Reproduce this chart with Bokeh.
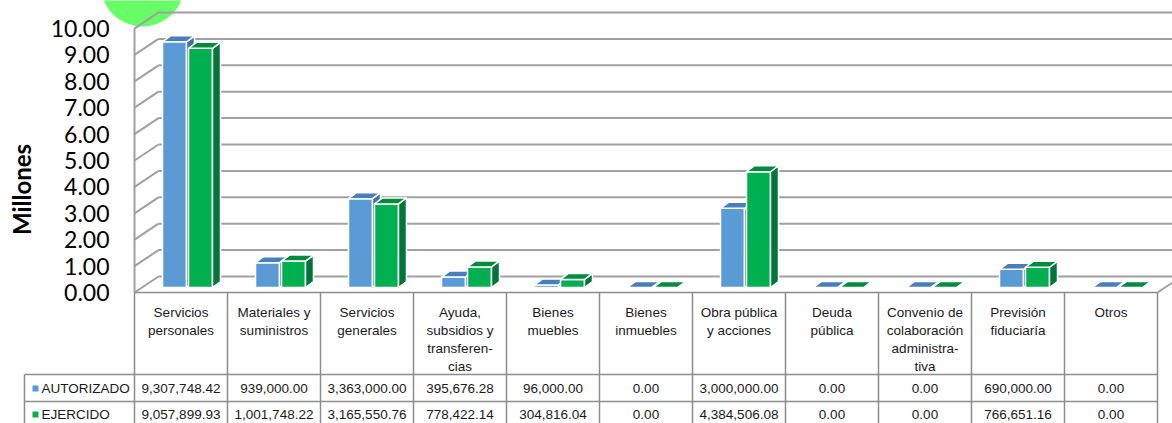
import math
from bokeh.plotting import figure
from bokeh.models import Range1d
from bokeh.core.properties import value
from bokeh.embed import file_html
from bokeh.resources import INLINE

# ---------------- data ----------------
categories = ["Servicios\npersonales", "Materiales y\nsuministros", "Servicios\ngenerales",
              "Ayuda,\nsubsidios y\ntransferen-\ncias", "Bienes\nmuebles", "Bienes\ninmuebles",
              "Obra pública\ny acciones", "Deuda\npública",
              "Convenio de\ncolaboración\nadministra-\ntiva", "Previsión\nfiduciaría", "Otros"]
autorizado = [9307748.42, 939000.00, 3363000.00, 395676.28, 96000.00, 0.00,
              3000000.00, 0.00, 0.00, 690000.00, 0.00]
ejercido = [9057899.93, 1001748.22, 3165550.76, 778422.14, 304816.04, 0.00,
            4384506.08, 0.00, 0.00, 766651.16, 0.00]
series_names = ["AUTORIZADO", "EJERCIDO"]
y_ticks = [0, 1, 2, 3, 4, 5, 6, 7, 8, 9, 10]
y_tick_labels = ["0.00", "1.00", "2.00", "3.00", "4.00", "5.00", "6.00", "7.00", "8.00", "9.00", "10.00"]
y_title = "Millones"

# ---------------- layout (pixel geometry) ----------------
W, H = 1172, 423
X0, Y0 = 134.0, 292.0      # front-left bottom corner of the plot box
CW = 93.0                  # category width (px)
U = 26.4                   # px per million
WDX, WDY = 24.0, 16.0      # depth of walls
BDX, BDY = 8.0, 6.0        # depth of bars


def X(px):
    return (px - X0) / CW


def Y(py):
    return (Y0 - py) / U


BLUE = ("#5B9BD5", "#41719C", "#4A7EBB")     # front, side, top
GREEN = ("#00B050", "#00753A", "#008A3E")
GRID = "#A0A0A0"
TBL = "#8C8C8C"
TXT = "#1A1A1A"
TFONT = value("Liberation Sans")

p = figure(width=W, height=H, x_range=Range1d(X(0), X(W)), y_range=Range1d(Y(H), Y(0)),
           x_axis_type=None, y_axis_type=None, toolbar_location=None, output_backend="svg",
           min_border=0, outline_line_color=None, background_fill_color="white")

# decoration circle (top left)
p.ellipse(x=[X(142)], y=[Y(-16)], width=[84 / CW], height=[84 / U],
          fill_color="#66FF66", line_color=None)

# back wall gridlines and left wall diagonals
back_dy = WDY / U
back_dx = WDX / CW
p.segment(x0=[back_dx] * len(y_ticks), y0=[v + back_dy for v in y_ticks],
          x1=[X(1200)] * len(y_ticks), y1=[v + back_dy for v in y_ticks],
          line_color=GRID, line_width=2)
p.segment(x0=[0] * len(y_ticks), y0=[v for v in y_ticks],
          x1=[back_dx] * len(y_ticks), y1=[v + back_dy for v in y_ticks],
          line_color=GRID, line_width=2)
top = max(y_ticks)
p.segment(x0=[0, 0, len(categories)], y0=[0, top, 0],
          x1=[0, back_dx, len(categories) + back_dx], y1=[top, top + back_dy, back_dy],
          line_color=GRID, line_width=2)

# bars
bar_off = 28 / CW
bw = 24 / CW
gap = 2 / CW
base = 5 / U
ddx = BDX / CW
ddy = BDY / U
xs, ys, cols = [], [], []
for i in range(len(categories)):
    for j, (vals, pal) in enumerate(((autorizado, BLUE), (ejercido, GREEN))):
        v = vals[i] / 1e6
        x0 = i + bar_off + j * (bw + gap)
        x1 = x0 + bw
        y0 = base
        y1 = base + v
        xs.append([x0, x1, x1, x0]); ys.append([y0, y0, y1, y1]); cols.append(pal[0])
        xs.append([x1, x1 + ddx, x1 + ddx, x1]); ys.append([y0, y0 + ddy, y1 + ddy, y1]); cols.append(pal[1])
        xs.append([x0, x1, x1 + ddx, x0 + ddx]); ys.append([y1, y1, y1 + ddy, y1 + ddy]); cols.append(pal[2])
p.patches(xs=xs, ys=ys, fill_color=cols, line_color="white", line_width=1.5)

# y tick labels and title
p.text(x=[X(109)] * len(y_ticks), y=y_ticks, text=y_tick_labels, text_align="right",
       text_baseline="middle", text_font=value("Lato"), text_font_size="23px", text_color="black")
p.text(x=[X(21)], y=[Y(189)], text=[y_title], angle=math.pi / 2, text_align="center",
       text_baseline="middle", text_font=value("Lato"), text_font_style="bold",
       text_font_size="24px", text_color="black")

# data table
n = len(categories)
bottom = Y(440)
p.segment(x0=list(range(n + 1)), y0=[0] * (n + 1), x1=list(range(n + 1)), y1=[bottom] * (n + 1),
          line_color=TBL, line_width=1.5)
p.segment(x0=[0, X(24), X(24), X(24)], y0=[0, Y(374), Y(401), Y(374)],
          x1=[n, n, n, X(24)], y1=[0, Y(374), Y(401), bottom],
          line_color=TBL, line_width=1.5)

hx, hy, ht = [], [], []
for i, c in enumerate(categories):
    for k, line in enumerate(c.split("\n")):
        hx.append(i + 0.5); hy.append(Y(311.5 + k * 18.3)); ht.append(line)
p.text(x=hx, y=hy, text=ht, text_align="center", text_baseline="middle",
       text_font=TFONT, text_font_size="13.5px", text_color=TXT)

row_y = [Y(388), Y(414)]
for r, vals in enumerate((autorizado, ejercido)):
    p.text(x=[i + 0.5 for i in range(n)], y=[row_y[r]] * n, text=[f"{v:,.2f}" for v in vals],
           text_align="center", text_baseline="middle", text_font=TFONT,
           text_font_size="13.5px", text_color=TXT)

p.scatter(x=[X(35), X(35)], y=row_y, marker="square", size=6,
          fill_color=[BLUE[0], GREEN[0]], line_color=None)
p.text(x=[X(41), X(41)], y=row_y, text=series_names, text_align="left", text_baseline="middle",
       text_font=TFONT, text_font_size="13.5px", text_color=TXT)

open("out.html", "w").write(file_html(p, INLINE))
